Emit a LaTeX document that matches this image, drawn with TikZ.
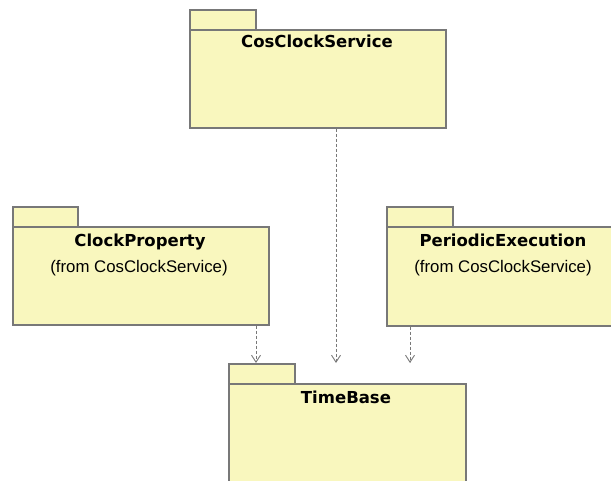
\documentclass[tikz,border=0pt]{standalone}
\usepackage{fontspec}
\setmainfont{Liberation Sans}
\newfontfamily\titlefont{DejaVu Sans}
\usetikzlibrary{arrows.meta}

\definecolor{pkgfill}{RGB}{249,247,190}
\definecolor{pkgline}{RGB}{120,120,120}
\definecolor{depline}{RGB}{120,120,120}

\tikzset{
  pkgtab/.style={draw=pkgline, fill=pkgfill, line width=1.7pt, inner sep=0pt,
    anchor=north west, minimum width=66pt, minimum height=20pt},
  pkgbody/.style={draw=pkgline, fill=pkgfill, line width=1.7pt, inner sep=0pt,
    anchor=north west},
  pkgtitle/.style={font=\titlefont\bfseries\fontsize{16.5}{20}\selectfont,
    anchor=base, inner sep=0pt},
  pkgnote/.style={font=\fontsize{16.8}{20}\selectfont, anchor=base, inner sep=0pt},
  dep/.style={draw=depline, line width=0.9pt, dash pattern=on 3pt off 2pt,
    -{Straight Barb[length=7pt, width=9pt, line width=0.9pt]}}
}

\begin{document}
\begin{tikzpicture}[x=1pt, y=-1pt]
  \useasboundingbox (0,0) rectangle (611,481);
  \clip (0,0) rectangle (611,481);

  % CosClockService
  \node[pkgtab] (cstab) at (189,9) {};
  \node[pkgbody, minimum width=256pt, minimum height=98pt] (cs) at (189,29) {};
  \node[pkgtitle] (cstitle) at (317,48) {CosClockService};

  % ClockProperty
  \node[pkgtab, minimum width=65pt] (cptab) at (12,206) {};
  \node[pkgbody, minimum width=256pt, minimum height=98pt] (cp) at (12,226) {};
  \node[pkgtitle] (cptitle) at (140,247) {ClockProperty};
  \node[pkgnote] (cpnote) at (139,273) {(from CosClockService)};

  % PeriodicExecution
  \node[pkgtab] (petab) at (386,206) {};
  \node[pkgbody, minimum width=234pt, minimum height=99pt] (pe) at (386,226) {};
  \node[pkgtitle] (petitle) at (503,247) {PeriodicExecution};
  \node[pkgnote] (penote) at (503,273) {(from CosClockService)};

  % TimeBase
  \node[pkgtab] (tbtab) at (228,363) {};
  \node[pkgbody, minimum width=237pt, minimum height=130pt] (tb) at (228,383) {};
  \node[pkgtitle] (tbtitle) at (346,403) {TimeBase};

  % dependency arrow tips
  \coordinate (tipcp) at (256,363);
  \coordinate (tipcs) at (336,363);
  \coordinate (tippe) at (410,363);

  \draw[dep] (cp.south -| tipcp) -- (tipcp);
  \draw[dep] (cs.south -| tipcs) -- (tipcs);
  \draw[dep] (pe.south -| tippe) -- (tippe);
\end{tikzpicture}
\end{document}
